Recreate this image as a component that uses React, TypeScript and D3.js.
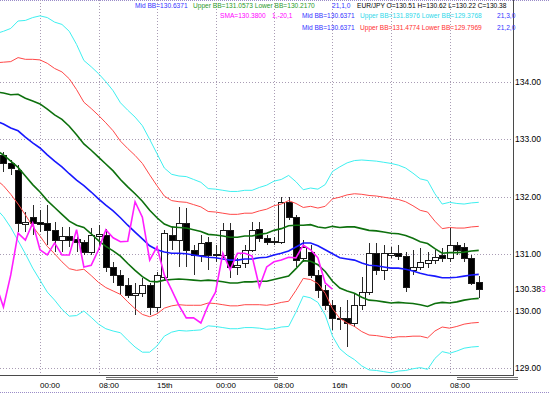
import React, { useEffect, useRef } from 'react';
import * as d3 from 'd3';

// hourly EUR/JPY bars, first visible bar index is -5 (bar 0 = first "00:00")
const firstBar = -5;
const opens = [132.73, 132.59, 132.47, 131.52, 131.64, 131.56, 131.54, 131.42, 131.24, 131.31, 131.26, 131.21, 131.03, 131.31, 131.33, 130.77, 130.63, 130.45, 130.28, 130.31, 130.45, 130.07, 130.59, 131.33, 131.24, 131.54, 131.07, 130.98, 131.21, 131.00, 130.98, 131.42, 130.77, 130.84, 131.07, 131.43, 131.28, 131.21, 131.21, 131.91, 131.64, 130.93, 131.03, 130.63, 130.37, 130.10, 129.86, 129.88, 129.79, 130.10, 130.33, 131.01, 130.72, 130.98, 131.01, 130.96, 130.72, 130.77, 130.84, 130.89, 130.98, 130.93, 131.15, 131.12, 130.93, 130.51];
const highs = [132.78, 132.64, 132.55, 131.73, 131.85, 131.77, 131.85, 131.56, 131.47, 131.47, 131.29, 131.24, 131.45, 131.50, 131.43, 130.86, 130.72, 130.58, 130.49, 130.58, 130.49, 130.68, 131.42, 131.47, 131.82, 131.80, 131.15, 131.33, 131.29, 131.15, 131.54, 131.54, 130.93, 131.15, 131.56, 131.56, 131.33, 131.29, 131.99, 131.99, 131.68, 131.24, 131.15, 130.72, 130.45, 130.19, 130.07, 130.19, 130.31, 130.59, 131.19, 131.19, 131.15, 131.12, 131.15, 131.03, 131.07, 131.10, 131.03, 131.07, 131.10, 131.45, 131.21, 131.19, 130.98, 130.62];
const lows = [132.43, 132.38, 131.38, 131.38, 131.33, 131.38, 131.15, 131.03, 131.03, 131.12, 131.03, 130.98, 130.98, 131.07, 130.68, 130.49, 130.28, 130.23, 129.93, 130.24, 129.93, 129.98, 130.54, 131.07, 130.77, 130.77, 130.63, 130.86, 130.72, 130.86, 130.93, 130.58, 130.63, 130.75, 131.03, 131.21, 131.15, 131.15, 131.17, 131.59, 130.77, 130.86, 130.58, 130.23, 130.02, 129.67, 129.67, 129.37, 129.72, 130.02, 130.28, 130.63, 130.54, 130.93, 130.89, 130.33, 130.63, 130.72, 130.75, 130.82, 130.86, 130.86, 130.98, 130.86, 130.45, 130.22];
const closes = [132.59, 132.50, 131.54, 131.56, 131.54, 131.52, 131.42, 131.24, 131.31, 131.24, 131.21, 131.03, 131.33, 131.35, 130.77, 130.63, 130.45, 130.28, 130.31, 130.45, 130.07, 130.63, 131.36, 131.24, 131.54, 131.07, 130.98, 131.19, 130.98, 130.98, 131.42, 130.77, 130.80, 131.07, 131.42, 131.28, 131.21, 131.22, 131.91, 131.64, 130.89, 131.12, 130.63, 130.37, 130.10, 129.88, 129.88, 129.79, 130.10, 130.33, 131.01, 130.72, 131.01, 131.01, 130.96, 130.42, 130.77, 130.86, 130.89, 130.94, 130.93, 131.15, 131.07, 130.93, 130.49, 130.38];

// Bollinger(21) middle line and deviation, read per bar from bar -6
const bandStart = -6;
const midBB = [133.32, 133.27, 133.20, 133.15, 133.04, 132.94, 132.85, 132.73, 132.62, 132.52, 132.40, 132.29, 132.19, 132.08, 131.96, 131.85, 131.75, 131.63, 131.50, 131.38, 131.26, 131.14, 131.07, 131.03, 131.01, 131.01, 131.00, 130.98, 130.96, 130.94, 130.93, 130.91, 130.89, 130.89, 130.91, 130.91, 130.93, 130.94, 130.98, 131.01, 131.05, 131.12, 131.19, 131.19, 131.14, 131.07, 131.00, 130.93, 130.91, 130.89, 130.84, 130.80, 130.79, 130.77, 130.75, 130.75, 130.73, 130.70, 130.66, 130.63, 130.61, 130.58, 130.58, 130.59, 130.61, 130.63, 130.64];
const sigmaBB = [0.51, 0.54, 0.58, 0.64, 0.68, 0.73, 0.77, 0.80, 0.81, 0.83, 0.83, 0.79, 0.73, 0.73, 0.73, 0.72, 0.70, 0.67, 0.67, 0.67, 0.66, 0.62, 0.56, 0.49, 0.46, 0.45, 0.45, 0.44, 0.43, 0.40, 0.40, 0.40, 0.40, 0.40, 0.40, 0.40, 0.41, 0.42, 0.43, 0.43, 0.44, 0.38, 0.31, 0.32, 0.33, 0.38, 0.48, 0.53, 0.56, 0.58, 0.60, 0.61, 0.61, 0.61, 0.61, 0.60, 0.59, 0.57, 0.55, 0.55, 0.48, 0.43, 0.44, 0.43, 0.42, 0.42, 0.42];

// SMA(1) shifted -20 bars
const smaShift = 20;

const timeBars = [0, 8, 16, 24, 32, 40, 48, 56];
const timeTexts = ['00:00', '08:00', '15th', '00:00', '08:00', '16th', '00:00', '08:00'];
const priceTicks = [129, 130, 131, 132, 133, 134];
const lastPrice = 130.383;

const legend1 = ['Mid BB=130.6371', 'Upper BB=131.0573 Lower BB=130.2170', '21,1,0', 'EUR/JPY O=130.51 H=130.62 L=130.22 C=130.38'];
const legend2 = ['SMA=130.3800', '1,-20,1', 'Mid BB=130.6371', 'Upper BB=131.8976 Lower BB=129.3768', '21,3,0'];
const legend3 = ['Mid BB=130.6371', 'Upper BB=131.4774 Lower BB=129.7969', '21,2,0'];

const App = () => {
  const ref = useRef(null);

  useEffect(() => {
    if (!ref.current) return;
    const svg = d3.select(ref.current);
    svg.selectAll('*').remove();

    const right = 513, bottom = 375;
    const x = d3.scaleLinear().domain([0, 60]).range([40, 478.75]);
    const y = d3.scaleLinear().domain([129, 134]).range([368.2, 82.2]);
    const font = 'Liberation Sans, Arial, sans-serif';
    const gridColor = '#a99cb4';

    svg.append('defs').append('clipPath').attr('id', 'plot')
      .append('rect').attr('x', 0).attr('y', 0).attr('width', right).attr('height', bottom);

    // borders
    svg.append('line').attr('x1', 0).attr('x2', 550).attr('y1', 0.5).attr('y2', 0.5)
      .attr('stroke', '#9a8cc8').attr('stroke-dasharray', '1,1');
    svg.append('line').attr('x1', 0).attr('x2', 550).attr('y1', 392.5).attr('y2', 392.5)
      .attr('stroke', '#9a8cc8').attr('stroke-dasharray', '1,1');

    // grid
    svg.append('g').selectAll('line').data(priceTicks).enter().append('line')
      .attr('x1', 0).attr('x2', right)
      .attr('y1', d => Math.round(y(d)) + 0.5).attr('y2', d => Math.round(y(d)) + 0.5)
      .attr('stroke', gridColor).attr('stroke-dasharray', '1,2');
    svg.append('g').selectAll('line').data(timeBars).enter().append('line')
      .attr('x1', d => Math.round(x(d)) + 0.5).attr('x2', d => Math.round(x(d)) + 0.5)
      .attr('y1', 0).attr('y2', bottom)
      .attr('stroke', gridColor).attr('stroke-dasharray', '1,2');

    const plot = svg.append('g').attr('clip-path', 'url(#plot)');

    // candles
    const bars = opens.map((o, i) => ({ bar: firstBar + i, o, h: highs[i], l: lows[i], c: closes[i] }));
    const cg = plot.append('g');
    cg.selectAll('.wick').data(bars).enter().append('line')
      .attr('x1', d => Math.round(x(d.bar)) + 0.5).attr('x2', d => Math.round(x(d.bar)) + 0.5)
      .attr('y1', d => Math.round(y(d.h))).attr('y2', d => Math.round(y(d.l)))
      .attr('stroke', '#2a2a2a').attr('stroke-width', 1);
    cg.selectAll('.body').data(bars).enter().append('rect')
      .attr('x', d => Math.round(x(d.bar)) - 2.5)
      .attr('y', d => Math.round(y(Math.max(d.o, d.c))) + 0.5)
      .attr('width', 6)
      .attr('height', d => Math.max(0.5, Math.round(Math.abs(y(d.o) - y(d.c)))))
      .attr('fill', d => (d.c < d.o ? '#000' : '#fff'))
      .attr('stroke', '#1a1a1a').attr('stroke-width', 1);

    // bollinger bands
    const bandPts = midBB.map((m, i) => ({ bar: bandStart + i, m, s: sigmaBB[i] }));
    const bandLine = (k: number) => d3.line<any>().x(d => x(d.bar)).y(d => y(d.m + k * d.s));
    const bands = [
      { k: 3, color: '#3ef0f0', w: 1 }, { k: -3, color: '#3ef0f0', w: 1 },
      { k: 2, color: '#ff4848', w: 1 }, { k: -2, color: '#ff4848', w: 1 },
      { k: 1, color: '#0d700d', w: 1.6 }, { k: -1, color: '#0d700d', w: 1.6 },
      { k: 0, color: '#1818ff', w: 1.6 },
    ];
    bands.forEach(b => {
      plot.append('path').datum(bandPts).attr('d', bandLine(b.k))
        .attr('fill', 'none').attr('stroke', b.color).attr('stroke-width', b.w);
    });

    // shifted SMA
    const smaPts = bars.filter(d => d.bar - smaShift >= bandStart).map(d => ({ bar: d.bar - smaShift, v: d.c }));
    plot.append('path').datum(smaPts)
      .attr('d', d3.line<any>().x(d => x(d.bar)).y(d => y(d.v)))
      .attr('fill', 'none').attr('stroke', '#ff1eff').attr('stroke-width', 1.6);

    // axes
    svg.append('line').attr('x1', right + 0.5).attr('x2', right + 0.5).attr('y1', 0).attr('y2', bottom + 1)
      .attr('stroke', '#4a4a4a');
    svg.append('line').attr('x1', 0).attr('x2', right + 1).attr('y1', bottom + 0.5).attr('y2', bottom + 0.5)
      .attr('stroke', '#4a4a4a');
    [[106, 278], [457, 518]].forEach(([a, b]) => {
      [377.5, 379.5].forEach(yy => {
        svg.append('line').attr('x1', a).attr('x2', b).attr('y1', yy).attr('y2', yy)
          .attr('stroke', '#4a4a4a').attr('stroke-width', 0.8);
      });
    });

    svg.append('g').selectAll('text').data(priceTicks).enter().append('text')
      .attr('x', right + 2).attr('y', d => y(d) + 3)
      .attr('font-family', font).attr('font-size', 8.5).attr('fill', '#000')
      .text(d => d.toFixed(2));
    const lp = svg.append('text').attr('x', right + 2).attr('y', y(lastPrice) + 3)
      .attr('font-family', font).attr('font-size', 8.5).attr('fill', '#000');
    lp.append('tspan').text(lastPrice.toFixed(3).slice(0, -1));
    lp.append('tspan').attr('fill', '#ff00ff').text(lastPrice.toFixed(3).slice(-1));

    svg.append('g').selectAll('text').data(timeBars).enter().append('text')
      .attr('x', d => Math.round(x(d))).attr('y', 388)
      .attr('font-family', font).attr('font-size', 8).attr('fill', '#000')
      .text((d, i) => timeTexts[i]);

    // legend
    const blue = '#3434ff', green = '#2a9a2a', cyan = '#2ed8ea', red = '#ff3030', magenta = '#ff00ff';
    const rows = [
      { yy: 8, texts: legend1, xs: [135, 193, 332, 357], colors: [blue, green, blue, '#000'] },
      { yy: 18, texts: legend2, xs: [220, 272, 302, 360, 497], colors: [magenta, magenta, blue, cyan, blue] },
      { yy: 30, texts: legend3, xs: [302, 360, 497], colors: [blue, red, blue] },
    ];
    rows.forEach(r => {
      r.texts.forEach((t, i) => {
        svg.append('text').attr('x', r.xs[i]).attr('y', r.yy)
          .attr('font-family', font).attr('font-size', 6.6).attr('fill', r.colors[i])
          .text(t);
      });
    });
  }, []);

  return (
    <svg
      ref={ref}
      width={550}
      height={393}
      style={{ position: 'absolute', left: 0, top: 0, background: '#fff' }}
    />
  );
};

export default App;
